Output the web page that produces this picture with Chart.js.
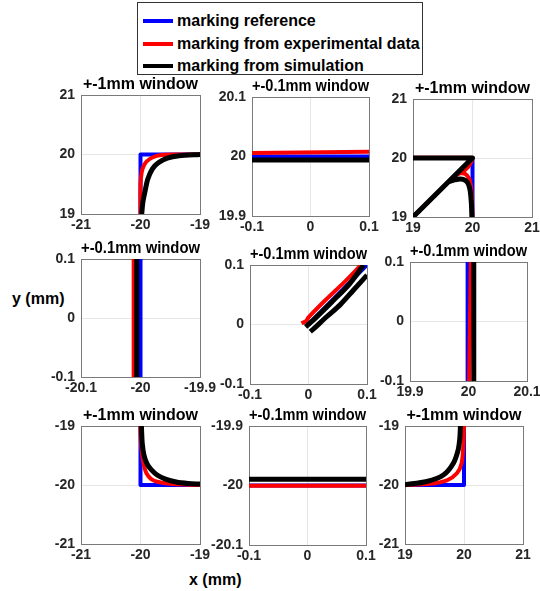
<!DOCTYPE html>
<html>
<head>
<meta charset="utf-8">
<script src="https://cdn.jsdelivr.net/npm/chart.js@4/dist/chart.umd.min.js"></script>
<style>
  body { margin: 0; background: #fff; }
  #wrap { position: relative; width: 540px; height: 591px; overflow: hidden; font-family: 'Liberation Sans', Arial, sans-serif; }
  #wrap canvas { position: absolute; }
  .legend { position: absolute; left: 137px; top: 2px; width: 284px; height: 71px; border: 1px solid #333; background: #fff; }
  .legend div { position: absolute; left: 5px; height: 20px; font-size: 16px; font-weight: bold; line-height: 20px; color: #000; white-space: nowrap; }
  .legend span { display: inline-block; width: 30px; height: 4px; vertical-align: middle; margin-right: 4px; position: relative; top: -1px; }
  .axlabel { position: absolute; font-size: 16px; font-weight: bold; color: #000; white-space: nowrap; }
</style>
</head>
<body>
<div id="wrap">
  <div class="legend">
    <div style="top:8px"><span style="background:#0000ff"></span>marking reference</div>
    <div style="top:31px"><span style="background:#ff0000"></span>marking from experimental data</div>
    <div style="top:53px"><span style="background:#000"></span>marking from simulation</div>
  </div>
  <div class="axlabel" style="left:12px; top:290px;">y (mm)</div>
  <div class="axlabel" style="left:189px; top:571px;">x (mm)</div>
</div>
<script>
// ---------- data ----------
// axis ticks / labels
const ticksBig1 = [-21, -20, -19];
const ticksBig2 = [19, 20, 21];
const ticksSmallNeg = [-20.1, -20, -19.9];
const ticksSmallPos = [19.9, 20, 20.1];
const ticksZero = [-0.1, 0, 0.1];

const titleBig = '+-1mm window';
const titleSmall = '+-0.1mm window';

// panel 1 (top left corner)
const p1Ref = [[-20, 19], [-20, 20], [-19, 20]];
const p1Exp = [[-20, 19], [-20, 19.5], [-19.98, 19.7], [-19.95, 19.8], [-19.9, 19.88], [-19.8, 19.95], [-19.65, 19.99], [-19.4, 20], [-19, 20]];
const p1Sim = [[-19.98, 19], [-19.96, 19.2], [-19.92, 19.4], [-19.88, 19.58], [-19.8, 19.76], [-19.7, 19.86], [-19.55, 19.94], [-19.35, 19.98], [-19, 20]];

// panel 2 (top edge)
const p2Ref = [[-0.1, 20.0], [0.1, 20.0]];
const p2Exp = [[-0.1, 20.006], [0.1, 20.008]];
const p2Sim = [[-0.1, 19.994], [0.1, 19.994]];

// panel 3 (top right corner, with diagonal)
const p3Ref = [[19, 20], [20, 20], [20, 19]];
const p3RefDiag = [[20, 20], [19, 19]];
const p3Exp = [[19, 20.006], [20, 20.006]];
const p3ExpDiag = [[20, 20], [19, 19]];
const p3ExpArc = [[19.66, 19.66], [19.75, 19.72], [19.83, 19.76], [19.9, 19.82], [19.95, 19.88], [19.98, 19.94], [20, 20]];
const p3ExpDown = [[19.8, 19.745], [19.88, 19.73], [19.94, 19.66], [19.97, 19.55], [19.985, 19.4], [19.995, 19.2], [20, 19]];
const p3Sim = [[19, 20], [20, 20], [19, 19]];
const p3SimArc = [[19.6, 19.6], [19.7, 19.63], [19.8, 19.645], [19.88, 19.62], [19.93, 19.56], [19.96, 19.45], [19.98, 19.25], [19.99, 19]];

// panel 4 (left edge)
const p4Ref = [[-20.0, -0.1], [-20.0, 0.1]];
const p4Exp = [[-20.0115, -0.1], [-20.0115, 0.1]];
const p4Sim = [[-20.0064, -0.1], [-20.0064, 0.1]];

// panel 5 (start point)
const p5Ref = [[0, 0], [0.1, 0.1]];
const p5Exp = [[-0.012, 0.002], [-0.004, 0.006], [0.0, 0.012], [0.03, 0.042], [0.06, 0.07], [0.09, 0.1]];
const p5SimA = [[-0.005, -0.004], [0.002, 0.002], [0.01, 0.009], [0.04, 0.038], [0.07, 0.068], [0.094, 0.1]];
const p5SimB = [[0.003, -0.012], [0.008, -0.008], [0.031, 0.013], [0.054, 0.033], [0.077, 0.058], [0.1, 0.083]];

// panel 6 (right edge)
const p6Ref = [[19.9985, -0.1], [19.9985, 0.1]];
const p6Exp = [[20.001, -0.1], [20.004, 0.1]];
const p6Sim = [[20.009, -0.1], [20.009, 0.1]];

// panel 7 (bottom left corner)
const p7Ref = [[-20, -19], [-20, -20], [-19, -20]];
const p7Exp = [[-20.005, -19], [-19.99, -19.3], [-19.97, -19.5], [-19.94, -19.68], [-19.9, -19.8], [-19.82, -19.9], [-19.7, -19.95], [-19.5, -19.98], [-19.2, -19.995], [-19, -20]];
const p7Sim = [[-19.985, -19], [-19.97, -19.3], [-19.94, -19.5], [-19.89, -19.64], [-19.82, -19.74], [-19.72, -19.83], [-19.58, -19.9], [-19.4, -19.95], [-19.2, -19.975], [-19, -19.985]];

// panel 8 (bottom edge)
const p8Ref = [[-0.1, -20.0], [0.1, -20.0]];
const p8Exp = [[-0.1, -20.0005], [0.1, -20.0005]];
const p8Sim = [[-0.1, -19.9895], [0.1, -19.9895]];

// panel 9 (bottom right corner)
const p9Ref = [[19, -20], [20, -20], [20, -19]];
const p9Exp = [[19, -20], [19.42, -19.98], [19.71, -19.92], [19.88, -19.8], [19.96, -19.63], [19.99, -19.3], [20, -19]];
const p9Sim = [[19, -19.995], [19.37, -19.94], [19.65, -19.83], [19.82, -19.63], [19.9, -19.41], [19.93, -19.2], [19.94, -19]];

// ---------- styles ----------
const FONT = "'Liberation Sans', Arial, sans-serif";
const BOX = '#7a7a7a';
const GRID = '#e6e6e6';
const STYLE = {
    ref: { color: '#0000ff', width: 4, order: 3 },
    exp: { color: '#ff0000', width: 4, order: 2 },
    sim: { color: '#000000', width: 5, order: 1 }
};
const Y_W = 55, X_H = 30, TITLE_H = 20, PAD_R = 20;

// plot boxes: left, top, right, bottom (px)
const panels = [
    { box: [81, 95, 200, 214], title: titleBig, xt: ticksBig1, yt: ticksBig2,
      lines: [['ref', p1Ref], ['exp', p1Exp], ['sim', p1Sim]] },
    { box: [252, 97, 369, 216], title: titleSmall, xt: ticksZero, yt: ticksSmallPos,
      lines: [['ref', p2Ref], ['exp', p2Exp], ['sim', p2Sim]] },
    { box: [413, 99, 532, 217], title: titleBig, xt: ticksBig2, yt: ticksBig2,
      lines: [['ref', p3Ref], ['ref', p3RefDiag], ['exp', p3Exp], ['exp', p3ExpDiag], ['exp', p3ExpArc], ['exp', p3ExpDown], ['sim', p3Sim], ['sim', p3SimArc]] },
    { box: [81, 259, 200, 377], title: titleSmall, xt: ticksSmallNeg, yt: ticksZero,
      lines: [['ref', p4Ref], ['exp', p4Exp], ['sim', p4Sim]] },
    { box: [250, 265, 367, 384], title: titleSmall, xt: ticksZero, yt: ticksZero,
      lines: [['ref', p5Ref], ['exp', p5Exp], ['sim', p5SimA], ['sim', p5SimB]] },
    { box: [410, 262, 527, 381], title: titleSmall, xt: ticksSmallPos, yt: ticksZero,
      lines: [['ref', p6Ref], ['exp', p6Exp], ['sim', p6Sim]] },
    { box: [81, 426, 200, 544], title: titleBig, xt: ticksBig1, yt: ticksBig1,
      lines: [['ref', p7Ref], ['exp', p7Exp], ['sim', p7Sim]] },
    { box: [249, 426, 366, 545], title: titleSmall, xt: ticksZero, yt: ticksSmallNeg,
      lines: [['ref', p8Ref], ['exp', p8Exp], ['sim', p8Sim]] },
    { box: [405, 426, 523, 544], title: titleBig, xt: ticksBig2, yt: ticksBig1,
      lines: [['ref', p9Ref], ['exp', p9Exp], ['sim', p9Sim]] }
];

const wrap = document.getElementById('wrap');

function axis(ticks, isX) {
    return {
        type: 'linear',
        min: ticks[0],
        max: ticks[ticks.length - 1],
        afterBuildTicks: s => { s.ticks = ticks.map(v => ({ value: v })); },
        afterFit: s => { if (isX) s.height = X_H; else s.width = Y_W; },
        ticks: {
            autoSkip: false,
            maxRotation: 0,
            padding: isX ? 3 : 6,
            color: '#262626',
            font: { family: FONT, size: 14, weight: 'bold' },
            callback: (v, i) => String(ticks[i])
        },
        grid: {
            drawTicks: false,
            lineWidth: 1,
            color: ctx => (ctx.index === 0 || ctx.index === ticks.length - 1) ? BOX : GRID
        },
        border: { color: BOX, width: 1 }
    };
}

panels.forEach(p => {
    const [l, t, r, b] = p.box;
    const cv = document.createElement('canvas');
    const w = (r - l) + Y_W + PAD_R;
    const h = (b - t) + TITLE_H + X_H;
    cv.width = w; cv.height = h;
    cv.style.left = (l - Y_W) + 'px';
    cv.style.top = (t - TITLE_H) + 'px';
    cv.style.width = w + 'px';
    cv.style.height = h + 'px';
    wrap.appendChild(cv);

    new Chart(cv, {
        type: 'scatter',
        data: {
            datasets: p.lines.map(([kind, pts]) => ({
                data: pts.map(([x, y]) => ({ x, y })),
                showLine: true,
                borderColor: STYLE[kind].color,
                borderWidth: STYLE[kind].width,
                order: STYLE[kind].order,
                pointRadius: 0,
                tension: pts.length > 3 ? 0.3 : 0,
                borderJoinStyle: 'round'
            }))
        },
        options: {
            responsive: false,
            animation: false,
            devicePixelRatio: 1,
            layout: { padding: { left: 0, right: PAD_R, top: 0, bottom: 0 } },
            plugins: {
                legend: { display: false },
                tooltip: { enabled: false },
                title: {
                    display: true,
                    text: p.title,
                    fullSize: false,
                    color: '#000',
                    font: { family: FONT, size: 16, weight: 'bold', lineHeight: 1.25 },
                    padding: { top: 0, bottom: 0 }
                }
            },
            scales: {
                x: axis(p.xt, true),
                y: axis(p.yt, false)
            }
        }
    });
});
</script>
</body>
</html>
